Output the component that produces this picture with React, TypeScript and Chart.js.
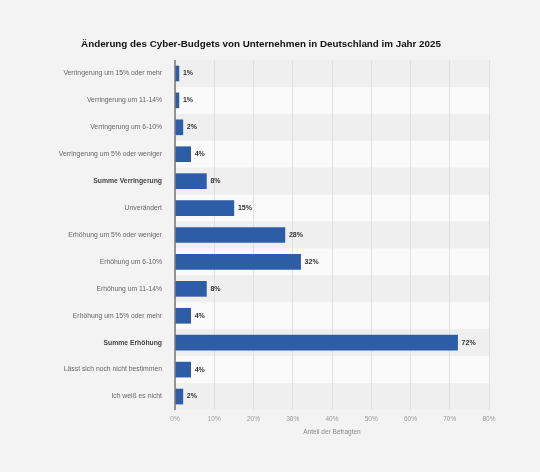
import { useEffect, useRef } from "react";
import { Chart, registerables } from "chart.js";

Chart.register(...registerables);

const categories = [
  "Verringerung um 15% oder mehr",
  "Verringerung um 11-14%",
  "Verringerung um 6-10%",
  "Verringerung um 5% oder weniger",
  "Summe Verringerung",
  "Unverändert",
  "Erhöhung um 5% oder weniger",
  "Erhöhung um 6-10%",
  "Erhöhung um 11-14%",
  "Erhöhung um 15% oder mehr",
  "Summe Erhöhung",
  "Lässt sich noch nicht bestimmen",
  "Ich weiß es nicht",
];
const shares = [1, 1, 2, 4, 8, 15, 28, 32, 8, 4, 72, 4, 2];
const boldRows = ["Summe Verringerung", "Summe Erhöhung"];

const title = "Änderung des Cyber-Budgets von Unternehmen in Deutschland im Jahr 2025";
const axisTitle = "Anteil der Befragten";

const FONT = "Arial, 'Liberation Sans', sans-serif";

const bandsAndLabels = {
  id: "bandsAndLabels",
  beforeDraw(chart: Chart) {
    const { ctx, chartArea, scales } = chart;
    const y = scales.y;
    ctx.save();
    ctx.fillStyle = "#f3f3f3";
    ctx.fillRect(0, 0, chart.width, chart.height);
    const step = (chartArea.bottom - chartArea.top) / categories.length;
    categories.forEach((_, i) => {
      const c = y.getPixelForValue(i);
      ctx.fillStyle = i % 2 === 0 ? "#efefef" : "#fafafa";
      ctx.fillRect(chartArea.left, c - step / 2, chartArea.right - chartArea.left, step);
    });
    ctx.fillStyle = "#111";
    ctx.font = `bold 9.8px ${FONT}`;
    ctx.textAlign = "center";
    ctx.textBaseline = "middle";
    ctx.fillText(title, 261, 44.5);
    ctx.restore();
  },
  afterDatasetsDraw(chart: Chart) {
    const { ctx, scales } = chart;
    ctx.save();
    ctx.fillStyle = "#333";
    ctx.font = `bold 7px ${FONT}`;
    ctx.textAlign = "left";
    ctx.textBaseline = "middle";
    shares.forEach((v, i) => {
      ctx.fillText(`${v}%`, scales.x.getPixelForValue(v) + 4, scales.y.getPixelForValue(i));
    });
    // zero axis line
    ctx.strokeStyle = "#777";
    ctx.lineWidth = 1.5;
    const x0 = scales.x.getPixelForValue(0);
    ctx.beginPath();
    ctx.moveTo(x0, chart.chartArea.top);
    ctx.lineTo(x0, chart.chartArea.bottom);
    ctx.stroke();
    ctx.restore();
  },
};

export default function App() {
  const canvasRef = useRef<HTMLCanvasElement | null>(null);
  const chartRef = useRef<Chart | null>(null);

  useEffect(() => {
    document.body.style.margin = "0";
    document.body.style.background = "#f3f3f3";
    if (!canvasRef.current) return;
    chartRef.current?.destroy();
    chartRef.current = new Chart(canvasRef.current, {
      type: "bar",
      data: {
        labels: categories,
        datasets: [
          {
            data: shares,
            backgroundColor: "#2d5da7",
            barThickness: 15,
          },
        ],
      },
      options: {
        indexAxis: "y",
        animation: false,
        responsive: false,
        layout: { padding: { top: 60, right: 51, bottom: 36, left: 0 } },
        plugins: { legend: { display: false }, tooltip: { enabled: false } },
        scales: {
          x: {
            min: 0,
            max: 80,
            afterFit: (s: any) => {
              s.height = 26;
            },
            border: { display: false },
            grid: { color: "#e0e0e0", drawTicks: false, lineWidth: 1 },
            ticks: {
              stepSize: 10,
              padding: 5,
              color: "#9a9a9a",
              font: { family: FONT, size: 6.5 },
              callback: (v: any) => `${v}%`,
            },
            title: {
              display: true,
              text: axisTitle,
              color: "#888",
              font: { family: FONT, size: 6.5 },
              padding: { top: 1, bottom: 0 },
            },
          },
          y: {
            afterFit: (s: any) => {
              s.width = 175;
            },
            border: { display: false },
            grid: { display: false },
            ticks: {
              padding: 5,
              color: (c: any) => (boldRows.includes(categories[c.index]) ? "#444" : "#666"),
              font: (c: any) => ({
                family: FONT,
                size: 6.8,
                weight: boldRows.includes(categories[c.index]) ? "bold" : "normal",
              }),
            },
          },
        },
      },
      plugins: [bandsAndLabels],
    });
    return () => {
      chartRef.current?.destroy();
      chartRef.current = null;
    };
  }, []);

  return <canvas ref={canvasRef} width={540} height={472} style={{ display: "block" }} />;
}
